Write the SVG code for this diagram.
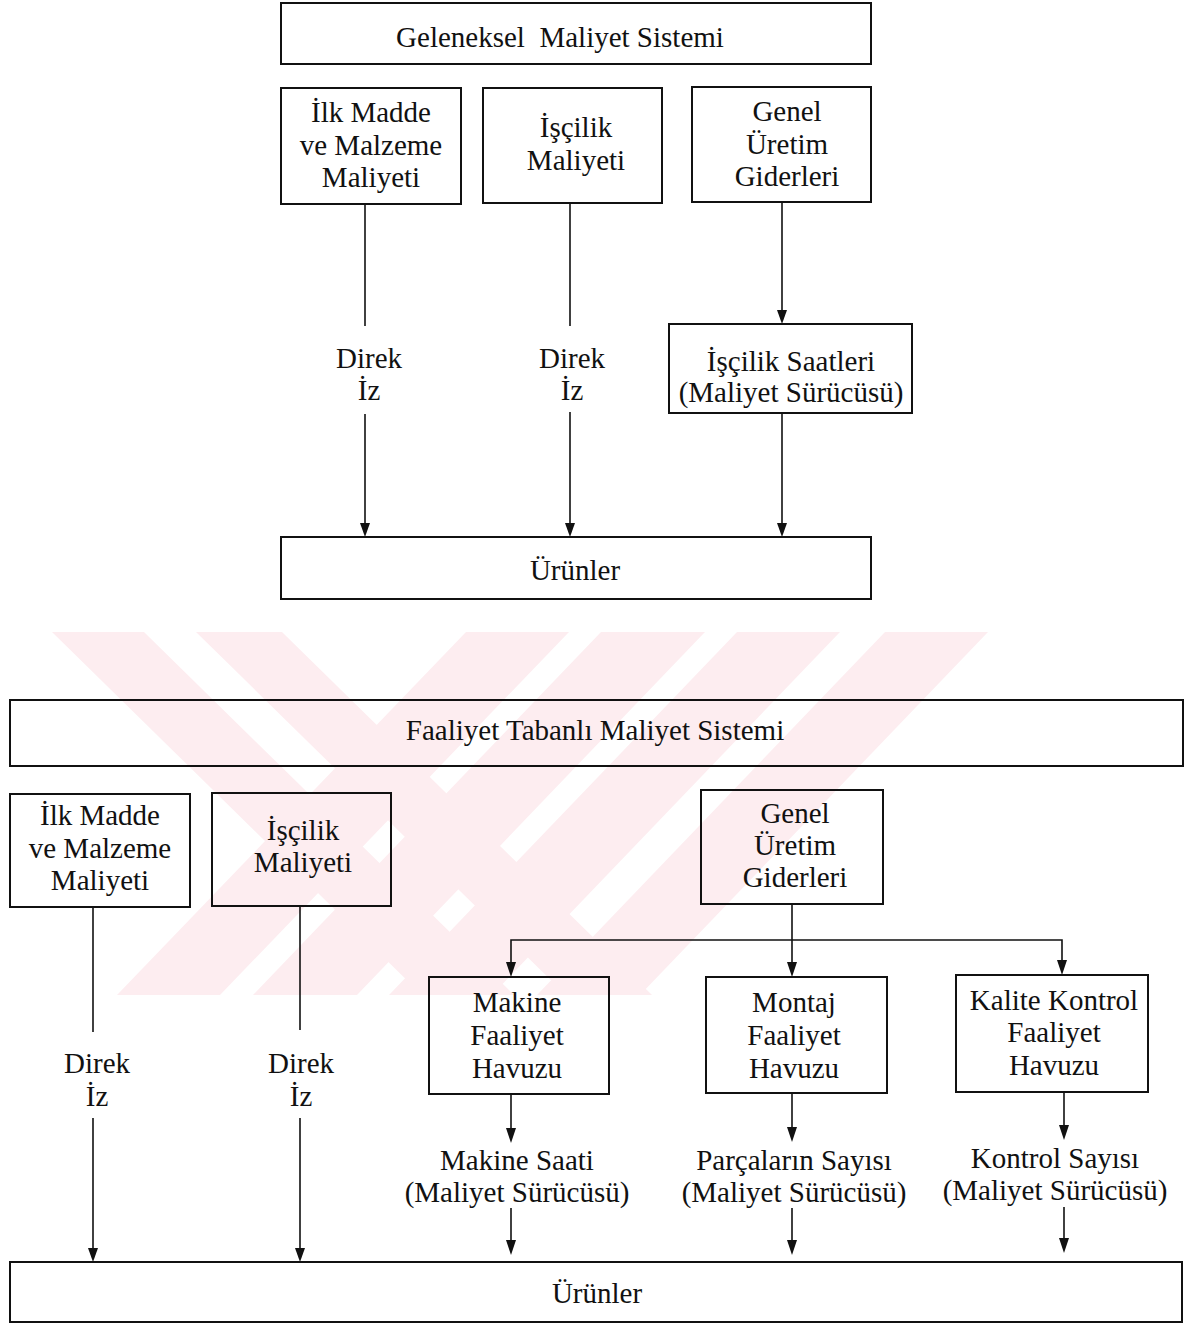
<svg xmlns="http://www.w3.org/2000/svg" width="1189" height="1325" viewBox="0 0 1189 1325">
<style>
  .box { fill: none; stroke: #111; stroke-width: 2; }
  .ln { stroke: #111; stroke-width: 1.6; fill: none; }
  .arr { stroke: #111; stroke-width: 1.6; fill: none; marker-end: url(#ah); }
  text { font-family: "Liberation Serif", "Times New Roman", serif; font-size: 29px; fill: #111; text-anchor: middle; }
  .wm { fill: #fdedf0; }
</style>
<defs>
  <marker id="ah" markerWidth="10" markerHeight="14" refX="5" refY="14" orient="auto-start-reverse" markerUnits="userSpaceOnUse" viewBox="0 0 10 14">
    <path d="M0,0 L10,0 L5,14 Z" fill="#111" transform="rotate(-90 5 7) translate(0 0)"/>
  </marker>
  <marker id="ad" markerWidth="11" markerHeight="15" refX="5.5" refY="15" orient="0" markerUnits="userSpaceOnUse" viewBox="0 0 11 15">
    <path d="M0,0 L11,0 L5.5,15 Z" fill="#111"/>
  </marker>
  <clipPath id="wmclip"><rect x="0" y="632" width="1189" height="363"/></clipPath>
</defs>
<rect x="0" y="0" width="1189" height="1325" fill="#fff"/>

<g id="watermark" clip-path="url(#wmclip)">
  <polygon class="wm" points="52,632 144,632 514,995 422,995"/>
  <polygon class="wm" points="196,632 282,632 652,995 566,995"/>
  <polygon class="wm" points="466,632 569,632 220,995 117,995"/>
  <polygon class="wm" points="601,632 705,632 357,995 253,995"/>
  <polygon class="wm" points="737,632 840,632 492,995 389,995"/>
  <polygon class="wm" points="885,632 988,632 640,995 537,995"/>
</g>

<g id="connectors">
  <!-- top section -->
  <line class="ln" x1="365" y1="204" x2="365" y2="326"/>
  <line class="ln" x1="365" y1="414" x2="365" y2="523"/>
  <line class="ln" x1="570" y1="204" x2="570" y2="326"/>
  <line class="ln" x1="570" y1="412" x2="570" y2="523"/>
  <line class="ln" x1="782" y1="202" x2="782" y2="310"/>
  <line class="ln" x1="782" y1="413" x2="782" y2="523"/>
  <!-- bottom section -->
  <line class="ln" x1="93" y1="907" x2="93" y2="1032"/>
  <line class="ln" x1="93" y1="1118" x2="93" y2="1248"/>
  <line class="ln" x1="300" y1="906" x2="300" y2="1030"/>
  <line class="ln" x1="300" y1="1118" x2="300" y2="1248"/>
  <line class="ln" x1="792" y1="904" x2="792" y2="940"/>
  <polyline class="ln" points="511,962 511,940 1062,940 1062,960"/>
  <line class="ln" x1="792" y1="940" x2="792" y2="962"/>
  <line class="ln" x1="511" y1="1094" x2="511" y2="1128"/>
  <line class="ln" x1="792" y1="1093" x2="792" y2="1127"/>
  <line class="ln" x1="1064" y1="1092" x2="1064" y2="1125"/>
  <line class="ln" x1="511" y1="1208" x2="511" y2="1240"/>
  <line class="ln" x1="792" y1="1208" x2="792" y2="1240"/>
  <line class="ln" x1="1064" y1="1207" x2="1064" y2="1238"/>
  <g fill="#111">
    <polygon points="360,523 370,523 365,537"/>
    <polygon points="565,523 575,523 570,537"/>
    <polygon points="777,523 787,523 782,537"/>
    <polygon points="777,310 787,310 782,324"/>
    <polygon points="88,1248 98,1248 93,1262"/>
    <polygon points="295,1248 305,1248 300,1262"/>
    <polygon points="506,962 516,962 511,977"/>
    <polygon points="787,962 797,962 792,977"/>
    <polygon points="1057,960 1067,960 1062,975"/>
    <polygon points="506,1128 516,1128 511,1143"/>
    <polygon points="787,1127 797,1127 792,1142"/>
    <polygon points="1059,1125 1069,1125 1064,1140"/>
    <polygon points="506,1240 516,1240 511,1255"/>
    <polygon points="787,1240 797,1240 792,1255"/>
    <polygon points="1059,1238 1069,1238 1064,1253"/>
  </g>
</g>

<!-- Top: traditional costing -->
<g id="n-geleneksel">
  <rect class="box" x="281" y="3" width="590" height="61"/>
  <text x="560" y="47" xml:space="preserve">Geleneksel  Maliyet Sistemi</text>
</g>
<g id="n-ilkmadde-1">
  <rect class="box" x="281" y="88" width="180" height="116"/>
  <text x="371" y="122">İlk Madde</text>
  <text x="371" y="155">ve Malzeme</text>
  <text x="371" y="187">Maliyeti</text>
</g>
<g id="n-iscilik-1">
  <rect class="box" x="483" y="88" width="179" height="115"/>
  <text x="576" y="137">İşçilik</text>
  <text x="576" y="170">Maliyeti</text>
</g>
<g id="n-genel-1">
  <rect class="box" x="692" y="87" width="179" height="115"/>
  <text x="787" y="121">Genel</text>
  <text x="787" y="154">Üretim</text>
  <text x="787" y="186">Giderleri</text>
</g>
<g id="l-direk-1">
  <text x="369" y="368">Direk</text>
  <text x="369" y="400">İz</text>
</g>
<g id="l-direk-2">
  <text x="572" y="368">Direk</text>
  <text x="572" y="400">İz</text>
</g>
<g id="n-iscilik-saatleri">
  <rect class="box" x="669" y="324" width="243" height="89"/>
  <text x="791" y="371">İşçilik Saatleri</text>
  <text x="791" y="402">(Maliyet Sürücüsü)</text>
</g>
<g id="n-urunler-1">
  <rect class="box" x="281" y="537" width="590" height="62"/>
  <text x="575" y="580">Ürünler</text>
</g>

<!-- Bottom: activity based costing -->
<g id="n-faaliyet">
  <rect class="box" x="10" y="700" width="1173" height="66"/>
  <text x="595" y="740">Faaliyet Tabanlı Maliyet Sistemi</text>
</g>
<g id="n-ilkmadde-2">
  <rect class="box" x="10" y="794" width="180" height="113"/>
  <text x="100" y="825">İlk Madde</text>
  <text x="100" y="858">ve Malzeme</text>
  <text x="100" y="890">Maliyeti</text>
</g>
<g id="n-iscilik-2">
  <rect class="box" x="212" y="793" width="179" height="113"/>
  <text x="303" y="840">İşçilik</text>
  <text x="303" y="872">Maliyeti</text>
</g>
<g id="n-genel-2">
  <rect class="box" x="701" y="790" width="182" height="114"/>
  <text x="795" y="823">Genel</text>
  <text x="795" y="855">Üretim</text>
  <text x="795" y="887">Giderleri</text>
</g>
<g id="l-direk-3">
  <text x="97" y="1073">Direk</text>
  <text x="97" y="1106">İz</text>
</g>
<g id="l-direk-4">
  <text x="301" y="1073">Direk</text>
  <text x="301" y="1106">İz</text>
</g>
<g id="n-makine">
  <rect class="box" x="429" y="977" width="180" height="117"/>
  <text x="517" y="1012">Makine</text>
  <text x="517" y="1045">Faaliyet</text>
  <text x="517" y="1078">Havuzu</text>
</g>
<g id="n-montaj">
  <rect class="box" x="706" y="977" width="181" height="116"/>
  <text x="794" y="1012">Montaj</text>
  <text x="794" y="1045">Faaliyet</text>
  <text x="794" y="1078">Havuzu</text>
</g>
<g id="n-kalite">
  <rect class="box" x="956" y="975" width="192" height="117"/>
  <text x="1054" y="1010">Kalite Kontrol</text>
  <text x="1054" y="1042">Faaliyet</text>
  <text x="1054" y="1075">Havuzu</text>
</g>
<g id="l-makine-saati">
  <text x="517" y="1170">Makine Saati</text>
  <text x="517" y="1202">(Maliyet Sürücüsü)</text>
</g>
<g id="l-parcalarin">
  <text x="794" y="1170">Parçaların Sayısı</text>
  <text x="794" y="1202">(Maliyet Sürücüsü)</text>
</g>
<g id="l-kontrol">
  <text x="1055" y="1168">Kontrol Sayısı</text>
  <text x="1055" y="1200">(Maliyet Sürücüsü)</text>
</g>
<g id="n-urunler-2">
  <rect class="box" x="10" y="1262" width="1172" height="60"/>
  <text x="597" y="1303">Ürünler</text>
</g>
</svg>
